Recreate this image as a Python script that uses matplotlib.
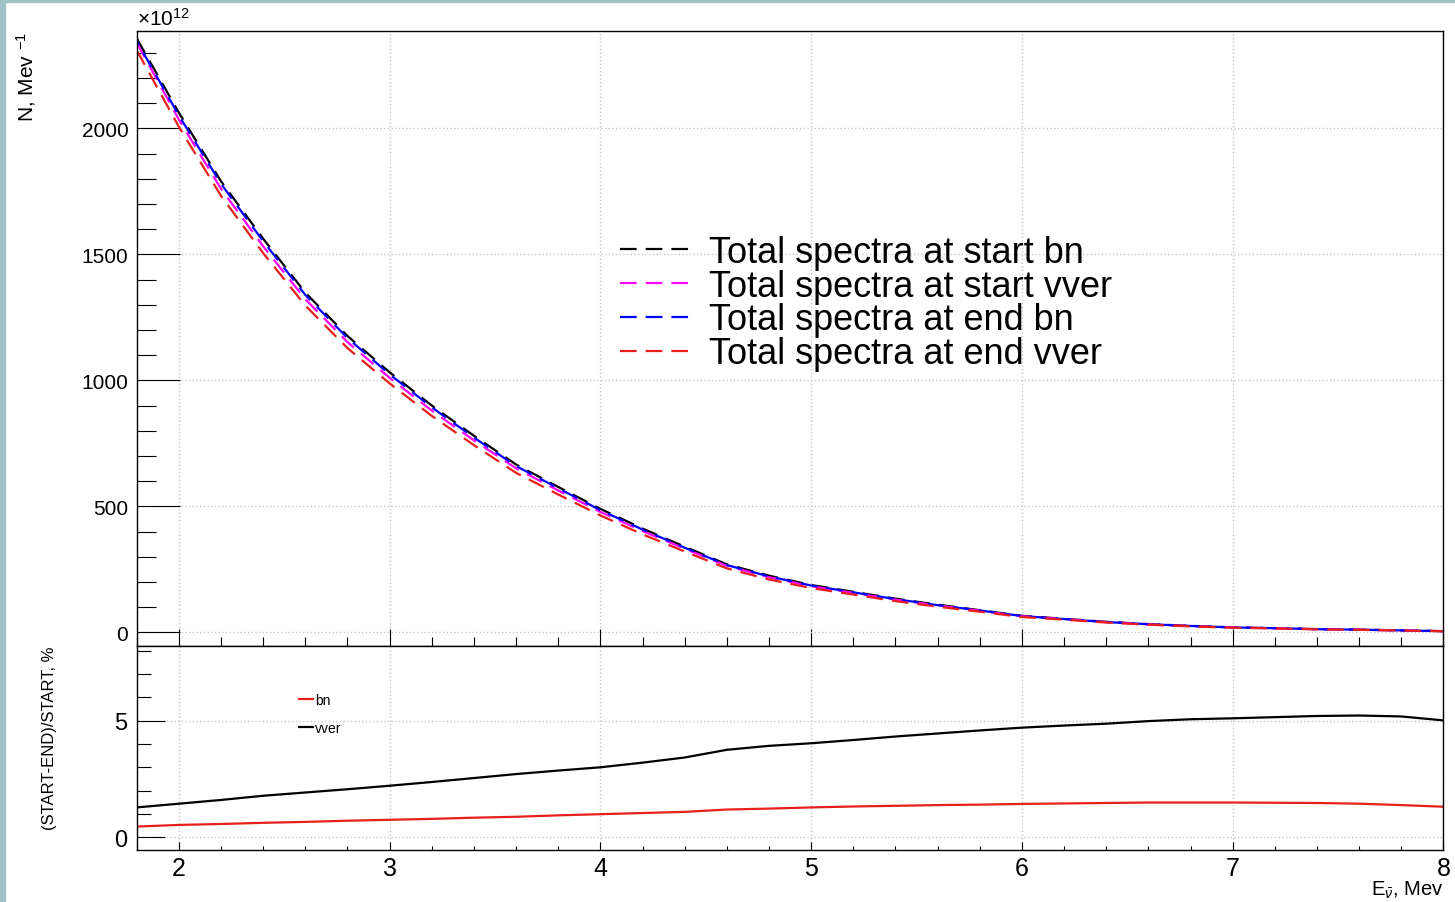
import matplotlib
matplotlib.use("Agg")
import matplotlib.pyplot as plt
from matplotlib.patches import Rectangle
from matplotlib.ticker import MultipleLocator

plt.rcParams['font.family'] = ['Liberation Sans', 'DejaVu Sans']
plt.rcParams['mathtext.fontset'] = 'custom'
plt.rcParams['mathtext.rm'] = 'Liberation Sans'
plt.rcParams['mathtext.it'] = 'Liberation Sans:italic'
plt.rcParams['lines.scale_dashes'] = False

# neutrino energy, MeV
energy = [1.8, 2.0, 2.2, 2.4, 2.6, 2.8, 3.0, 3.2, 3.4, 3.6, 3.8, 4.0, 4.2, 4.4, 4.6, 4.8,
          5.0, 5.2, 5.4, 5.6, 5.8, 6.0, 6.2, 6.4, 6.6, 6.8, 7.0, 7.2, 7.4, 7.6, 7.8, 8.0]

# spectra, x10^12 per MeV
start_bn = [2357, 2062, 1790, 1562, 1348, 1176, 1032, 900, 780, 666, 577, 490, 412, 340, 270, 225,
            188, 161, 134, 110, 88, 66, 54, 42, 33, 26, 20, 17, 13, 11, 8, 5]
start_vver = [2340, 2035, 1760, 1532, 1322, 1152, 1010, 880, 762, 651, 563, 478, 402, 332, 264, 219,
              183, 157, 130, 107, 86, 64, 53, 41, 32, 25, 19.6, 16.5, 12.7, 10.7, 7.8, 4.9]
end_bn = [2346, 2051, 1780, 1552, 1339, 1168, 1024, 893, 773, 660, 572, 485, 408, 336, 267, 222,
          186, 159, 132, 108, 87, 65, 53, 41, 32.5, 25.6, 19.7, 16.7, 12.8, 10.8, 7.9, 4.9]
end_vver = [2310, 2006, 1732, 1505, 1297, 1128, 988, 859, 743, 633, 547, 464, 389, 321, 254, 210,
            176, 150, 124, 102, 82, 61, 50.5, 39, 30.4, 23.7, 18.6, 15.6, 12.0, 10.1, 7.4, 4.7]

# (START-END)/START, %
diff_bn = [0.46, 0.53, 0.57, 0.62, 0.66, 0.71, 0.75, 0.79, 0.84, 0.88, 0.94, 0.99, 1.04, 1.09, 1.19, 1.23,
           1.28, 1.32, 1.35, 1.38, 1.40, 1.43, 1.45, 1.47, 1.49, 1.49, 1.49, 1.48, 1.47, 1.44, 1.38, 1.31]
diff_vver = [1.28, 1.44, 1.60, 1.78, 1.92, 2.06, 2.21, 2.37, 2.54, 2.71, 2.86, 3.00, 3.20, 3.42, 3.75, 3.92,
             4.03, 4.17, 4.32, 4.45, 4.58, 4.70, 4.79, 4.87, 4.98, 5.06, 5.10, 5.15, 5.20, 5.22, 5.18, 5.01]

W, H = 1455, 903
fig = plt.figure(figsize=(W / 100, H / 100), dpi=100)
border = '#a0c4ca'
fig.patches.append(Rectangle((0, 0), 5 / W, 1, transform=fig.transFigure, color=border))
fig.patches.append(Rectangle((0, 1 - 3 / H), 1, 3 / H, transform=fig.transFigure, color=border))

left = 136.7 / W
width = (1443.5 - 136.7) / W
ax = fig.add_axes([left, (H - 647) / H, width, (647 - 32.3) / H])
ax2 = fig.add_axes([left, (H - 851) / H, width, 204 / H])

dash = (0, (12, 6.5))
ax.plot(energy, start_bn, color='black', lw=1.6, linestyle=dash, label='Total spectra at start bn')
ax.plot(energy, start_vver, color='magenta', lw=1.6, linestyle=dash, label='Total spectra at start vver')
ax.plot(energy, end_bn, color='blue', lw=1.6, linestyle=(9, (12, 6.5)), label='Total spectra at end bn')
ax.plot(energy, end_vver, color='#e8201c', lw=1.6, linestyle=dash, label='Total spectra at end vver')

ax2.plot(energy, diff_bn, color='#e8201c', lw=1.6, label='bn')
ax2.plot(energy, diff_vver, color='black', lw=1.6, label='vver')

for a in (ax, ax2):
    a.set_xlim(1.8, 8.0)
    a.xaxis.set_major_locator(MultipleLocator(1))
    a.xaxis.set_minor_locator(MultipleLocator(0.2))
    a.grid(True, which='major', color='#c8c8c8', linestyle=':', linewidth=1)
    a.set_axisbelow(True)
    for s in a.spines.values():
        s.set_linewidth(1.0)

ax.set_ylim(-54, 2385)
ax.yaxis.set_major_locator(MultipleLocator(500))
ax.yaxis.set_minor_locator(MultipleLocator(100))
ax.tick_params(axis='y', which='major', direction='in', length=31, width=0.8, labelsize=15, pad=6)
ax.tick_params(axis='y', which='minor', direction='in', length=14, width=0.8)
ax.tick_params(axis='x', which='major', direction='in', length=12, width=0.8, labelbottom=False)
ax.tick_params(axis='x', which='minor', direction='in', length=6.5, width=0.8)

ax2.set_ylim(-0.545, 8.2)
ax2.yaxis.set_major_locator(MultipleLocator(5))
ax2.yaxis.set_minor_locator(MultipleLocator(1))
ax2.tick_params(axis='y', which='major', direction='in', length=20, width=0.8, labelsize=17, pad=7)
ax2.tick_params(axis='y', which='minor', direction='in', length=10, width=0.8)
ax2.tick_params(axis='x', which='major', direction='in', length=5.5, width=0.8, labelsize=18, pad=4)
ax2.tick_params(axis='x', which='minor', direction='in', length=3, width=0.8)

ax.set_ylabel('N, Mev $^{-1}$', fontsize=15, loc='top')
ax.yaxis.set_label_coords(-0.0755, 1.0)
ax.text(0.0, 1.004, r'$\times$10$^{12}$', transform=ax.transAxes, fontsize=15, ha='left', va='bottom')

ax2.set_ylabel('(START-END)/START, %', fontsize=12, loc='top')
ax2.yaxis.set_label_coords(-0.061, 1.0)
ax2.set_xlabel(r'E$_{\bar{\nu}}$, Mev', fontsize=14.5, loc='right')
ax2.xaxis.set_label_coords(1.0, -0.14)

leg = ax.legend(loc='center left', bbox_to_anchor=(0.370, 0.558), frameon=False, fontsize=26,
                handlelength=1.95, handletextpad=0.5, labelspacing=-0.03, borderpad=0, borderaxespad=0)
leg.get_lines()[2].set_linestyle(dash)
ax2.legend(loc='center left', bbox_to_anchor=(0.124, 0.667), frameon=False, fontsize=10,
           handlelength=1.0, handletextpad=0.2, labelspacing=1.0, borderpad=0, borderaxespad=0)

fig.savefig('out.png', dpi=100, facecolor='white')
